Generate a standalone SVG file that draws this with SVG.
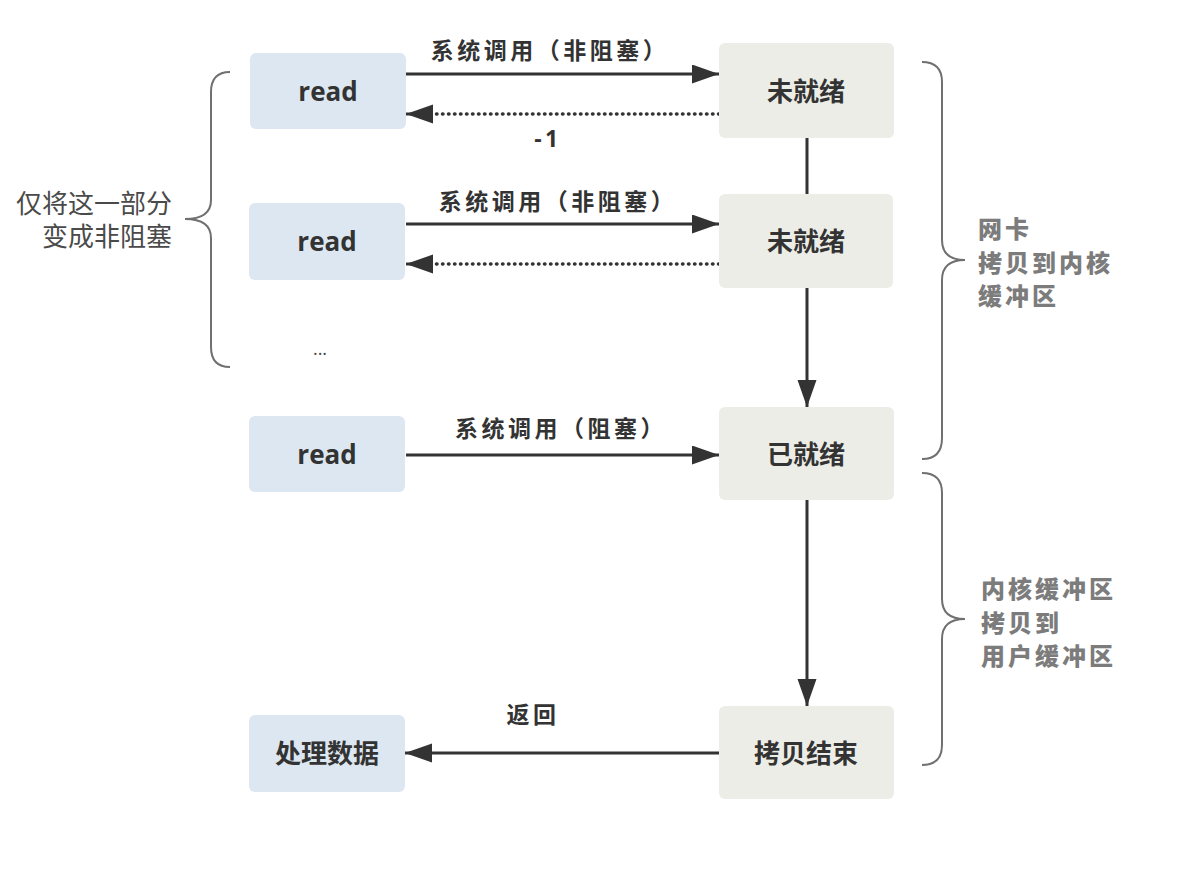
<svg xmlns="http://www.w3.org/2000/svg" width="1178" height="882" viewBox="0 0 1178 882">
<defs>
<style>
text{font-family:"Open Sans","Noto Sans CJK SC",sans-serif;dominant-baseline:central}
.blue{fill:#dce7f1}
.gray{fill:#edede7}
.nt{font-size:26px;font-weight:bold;fill:#333;text-anchor:middle}
.lbl{font-size:23px;font-weight:bold;fill:#333;text-anchor:middle;letter-spacing:3.5px}
.rl{font-size:24px;font-weight:900;fill:#7c7c7c;letter-spacing:3px}
.ll{font-size:26px;fill:#4a4a4a;text-anchor:end}
.line{stroke:#333;stroke-width:3;fill:none}
.dot{stroke:#333;stroke-width:3.5;fill:none;stroke-dasharray:0.5 5.5;stroke-linecap:round}
.brace{stroke:#707070;stroke-width:2;fill:none}
</style>
<marker id="ah" markerUnits="userSpaceOnUse" markerWidth="28" markerHeight="20" refX="27" refY="9.5" orient="auto">
<path d="M0,0 L27,9.5 L0,19 z" fill="#333"/>
</marker>
</defs>
<rect width="1178" height="882" fill="#fff"/>

<g id="connectors">
<line class="line" x1="406" y1="74" x2="719" y2="74" marker-end="url(#ah)"/>
<line class="dot" x1="719" y1="114" x2="420" y2="114"/>
<line class="line" x1="430" y1="114" x2="406" y2="114" marker-end="url(#ah)"/>
<line class="line" x1="406" y1="224" x2="719" y2="224" marker-end="url(#ah)"/>
<line class="dot" x1="719" y1="264" x2="420" y2="264"/>
<line class="line" x1="430" y1="264" x2="406" y2="264" marker-end="url(#ah)"/>
<line class="line" x1="406" y1="455" x2="719" y2="455" marker-end="url(#ah)"/>
<line class="line" x1="719" y1="753" x2="405" y2="753" marker-end="url(#ah)"/>
<line class="line" x1="807" y1="138" x2="807" y2="194"/>
<line class="line" x1="807" y1="288" x2="807" y2="407" marker-end="url(#ah)"/>
<line class="line" x1="807" y1="500" x2="807" y2="706" marker-end="url(#ah)"/>
<text class="lbl" x="550" y="50">系统调用（非阻塞）</text>
<text class="lbl" x="548" y="138">-1</text>
<text class="lbl" x="558" y="201">系统调用（非阻塞）</text>
<text class="lbl" x="561" y="428">系统调用（阻塞）</text>
<text class="lbl" x="533" y="714">返回</text>
</g>

<g id="read1"><rect class="blue" x="250" y="53" width="156" height="76" rx="6"/><text class="nt" x="328" y="91">read</text></g>
<g id="read2"><rect class="blue" x="249" y="203" width="156" height="77" rx="6"/><text class="nt" x="327" y="241">read</text></g>
<g id="read3"><rect class="blue" x="249" y="416" width="156" height="76" rx="6"/><text class="nt" x="327" y="454">read</text></g>
<g id="process"><rect class="blue" x="249" y="715" width="156" height="77" rx="6"/><text class="nt" x="327" y="753">处理数据</text></g>

<g id="notready1"><rect class="gray" x="719" y="43" width="175" height="95" rx="6"/><text class="nt" x="806" y="91">未就绪</text></g>
<g id="notready2"><rect class="gray" x="719" y="194" width="174" height="94" rx="6"/><text class="nt" x="806" y="241">未就绪</text></g>
<g id="ready"><rect class="gray" x="719" y="407" width="175" height="93" rx="6"/><text class="nt" x="806" y="454">已就绪</text></g>
<g id="copydone"><rect class="gray" x="719" y="706" width="175" height="93" rx="6"/><text class="nt" x="806" y="753">拷贝结束</text></g>

<g id="dots"><text x="320" y="348" style="font-size:18px;fill:#444;text-anchor:middle">...</text></g>

<g id="leftbrace">
<path class="brace" d="M230,72 Q211,72 211,92 L211,200 Q211,219 185,219 Q211,219 211,238 L211,347 Q211,367 230,367"/>
<text class="ll" x="172" y="203">仅将这一部分</text>
<text class="ll" x="172" y="236">变成非阻塞</text>
</g>

<g id="rightbrace1">
<path class="brace" d="M922,62 Q942,62 942,82 L942,240 Q942,260 965,260 Q942,260 942,280 L942,438 Q942,459 922,459"/>
<text class="rl" x="978" y="228">网卡</text>
<text class="rl" x="978" y="262">拷贝到内核</text>
<text class="rl" x="978" y="295">缓冲区</text>
</g>

<g id="rightbrace2">
<path class="brace" d="M922,473 Q942,473 942,493 L942,599 Q942,619 965,619 Q942,619 942,639 L942,745 Q942,765 922,765"/>
<text class="rl" x="981" y="588">内核缓冲区</text>
<text class="rl" x="981" y="622">拷贝到</text>
<text class="rl" x="981" y="655">用户缓冲区</text>
</g>
</svg>
